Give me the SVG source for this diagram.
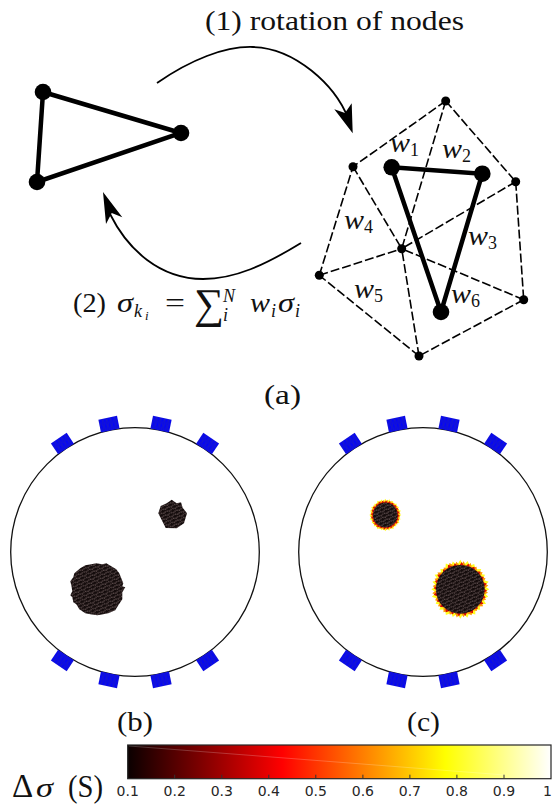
<svg xmlns="http://www.w3.org/2000/svg" xmlns:xlink="http://www.w3.org/1999/xlink" width="553" height="805" viewBox="0 0 553 805">
<style>
.t{font-family:"Liberation Serif","Times New Roman",serif;fill:#111;font-size:28px}
.m{font-style:italic}
.s{font-size:18px}
.ss{font-size:13px}
.big{font-size:31px}
.tick{font-family:"DejaVu Sans",sans-serif;font-size:14px;fill:#262626;text-anchor:middle}
.solid{fill:none;stroke:#000;stroke-width:4.5}
.dash{fill:none;stroke:#000;stroke-width:1.6;stroke-dasharray:9 3}
.curve{fill:none;stroke:#000;stroke-width:1.8}
.ring{fill:#fff;stroke:#111;stroke-width:1.3}
.tk{stroke:#333;stroke-width:1}
</style>
<defs>
<pattern id="mesh" width="4.4" height="4.4" patternUnits="userSpaceOnUse" patternTransform="rotate(22)">
<rect width="4.4" height="4.4" fill="#140c0c"/>
<rect x="0.3" y="0.4" width="1.5" height="1.1" fill="#6e5c5c"/>
<rect x="2.7" y="1.4" width="1.4" height="1.1" fill="#6e5c5c"/>
<rect x="1.2" y="3" width="1.4" height="1" fill="#6e5c5c"/>
</pattern>
<pattern id="zig" width="4" height="6" patternUnits="userSpaceOnUse">
<rect width="4" height="6" fill="#0505f5"/>
<path d="M1 0L2.5 3L1 6M3.4 0L2.8 3L3.4 6" fill="none" stroke="#2020b8" stroke-width="0.7"/>
</pattern>
<rect id="el" x="-9.5" y="-137" width="19" height="13" fill="url(#zig)"/>
<polygon id="star" points="108,0 90,12 104,28 84,36 96,54 72,58 74,76 56,75 56,94 34,88 26,106 12,90 0,110 -12,90 -28,103 -34,88 -54,96 -56,75 -78,76 -72,58 -92,54 -84,36 -106,28 -90,12 -108,0 -90,-12 -104,-28 -84,-36 -96,-54 -72,-58 -74,-76 -56,-75 -54,-96 -34,-88 -28,-104 -12,-90 0,-110 12,-90 28,-106 34,-88 52,-94 56,-75 78,-76 72,-58 92,-54 84,-36 106,-28 90,-12"/>
<linearGradient id="hot" x1="0" x2="1" y1="0" y2="0">
<stop offset="0" stop-color="#0a0000"/>
<stop offset="0.365" stop-color="#ff0000"/>
<stop offset="0.75" stop-color="#ffff00"/>
<stop offset="1" stop-color="#ffffff"/>
</linearGradient>
</defs>
<rect width="553" height="805" fill="#fff"/>

<g id="connectors">
<path class="curve" d="M157 83C190 60 225 46 253 47C295 48 335 85 348 118"/>
<polygon points="352.7,133.3 334.3,109.3 345,113 351.7,103.3"/>
<path class="curve" d="M301 243C265 265 235 279 203 279C160 279 128 250 110 214"/>
<polygon points="103,192 106,224 111.7,213 122.3,217.3"/>
<g id="mesh-edges">
<path class="dash" d="M445.7 101L353 166.7M445.7 101L515.7 181.7M515.7 181.7L523.7 299.7M523.7 299.7L419 356M419 356L319.3 275.3M319.3 275.3L353 166.7"/>
<path class="dash" d="M353 166.7L401.7 248.7M445.7 101L401.7 248.7M515.7 181.7L401.7 248.7M523.7 299.7L401.7 248.7M419 356L401.7 248.7M319.3 275.3L401.7 248.7"/>
</g>
<path class="solid" d="M43 92L181 133L37 182Z"/>
<path class="solid" d="M391.7 167.3L482.3 173.7L441 312Z"/>
</g>

<g id="node-a1"><circle cx="43" cy="92" r="8.3"/></g>
<g id="node-a2"><circle cx="181" cy="133" r="8.3"/></g>
<g id="node-a3"><circle cx="37" cy="182" r="8.3"/></g>
<g id="node-b1"><circle cx="391.7" cy="167.3" r="8.3"/></g>
<g id="node-b2"><circle cx="482.3" cy="173.7" r="8.3"/></g>
<g id="node-b3"><circle cx="441" cy="312" r="8.3"/></g>
<g id="node-m1"><circle cx="445.7" cy="101" r="4.5"/></g>
<g id="node-m2"><circle cx="353" cy="166.7" r="4.5"/></g>
<g id="node-m3"><circle cx="515.7" cy="181.7" r="4.5"/></g>
<g id="node-m4"><circle cx="401.7" cy="248.7" r="4.5"/></g>
<g id="node-m5"><circle cx="319.3" cy="275.3" r="4.5"/></g>
<g id="node-m6"><circle cx="523.7" cy="299.7" r="4.5"/></g>
<g id="node-m7"><circle cx="419" cy="356" r="4.5"/></g>

<g id="labels-a">
<text class="t" x="205" y="30" textLength="259" lengthAdjust="spacingAndGlyphs">(1) rotation of nodes</text>
<text class="t m" x="390" y="152" textLength="20" lengthAdjust="spacingAndGlyphs">w</text><text class="t s" x="410" y="156">1</text>
<text class="t m" x="442" y="158" textLength="20" lengthAdjust="spacingAndGlyphs">w</text><text class="t s" x="462" y="162">2</text>
<text class="t m" x="468" y="245" textLength="20" lengthAdjust="spacingAndGlyphs">w</text><text class="t s" x="488" y="249">3</text>
<text class="t m" x="344" y="229" textLength="20" lengthAdjust="spacingAndGlyphs">w</text><text class="t s" x="364" y="233">4</text>
<text class="t m" x="354" y="298" textLength="20" lengthAdjust="spacingAndGlyphs">w</text><text class="t s" x="374" y="302">5</text>
<text class="t m" x="451" y="303" textLength="20" lengthAdjust="spacingAndGlyphs">w</text><text class="t s" x="471" y="307">6</text>
<text class="t" x="73" y="312" textLength="33" lengthAdjust="spacingAndGlyphs">(2)</text>
<text class="t m" x="117" y="312" textLength="16" lengthAdjust="spacingAndGlyphs">σ</text>
<text class="t m s" x="134" y="317">k</text>
<text class="t m ss" x="145" y="320">i</text>
<text class="t" x="165" y="312" textLength="20" lengthAdjust="spacingAndGlyphs">=</text>
<text class="t" x="194" y="318" style="font-size:42px">∑</text>
<text class="t m s" x="223" y="302">N</text>
<text class="t m s" x="223" y="321">i</text>
<text class="t m" x="250" y="312" textLength="20" lengthAdjust="spacingAndGlyphs">w</text>
<text class="t m s" x="271" y="317">i</text>
<text class="t m" x="278" y="312" textLength="16" lengthAdjust="spacingAndGlyphs">σ</text>
<text class="t m s" x="295" y="317">i</text>
<text class="t" x="264" y="404" textLength="37" lengthAdjust="spacingAndGlyphs">(a)</text>
</g>

<g id="panel-b">
<circle class="ring" cx="135" cy="552" r="124.3"/>
<g transform="translate(135 552)">
<use href="#el" xlink:href="#el" transform="rotate(-33.8)"/>
<use href="#el" xlink:href="#el" transform="rotate(-11.5)"/>
<use href="#el" xlink:href="#el" transform="rotate(11.5)"/>
<use href="#el" xlink:href="#el" transform="rotate(33.8)"/>
<use href="#el" xlink:href="#el" transform="rotate(146.2)"/>
<use href="#el" xlink:href="#el" transform="rotate(168.5)"/>
<use href="#el" xlink:href="#el" transform="rotate(191.5)"/>
<use href="#el" xlink:href="#el" transform="rotate(213.8)"/>
</g>
<polygon fill="url(#mesh)" points="171.7,499.7 176.7,503.3 181,502.3 182.7,507.7 187,513.3 184,523.3 176.7,528.3 165.7,528 161.7,520 158.3,513.3 160.7,506 166.7,503.3"/>
<polygon fill="url(#mesh)" transform="translate(97.3 589.3)" points="28,-2 25,3 25,10 21,16 18,21 11,24 6,25 0,26 -7,25 -12,24 -18,20 -21,15 -24,13 -25,8 -27,6 -25,2 -26,-4 -27,-8 -24,-12 -23,-16 -17,-21 -12,-24 -6,-25 -1,-26 5,-25 9,-26 14,-23 19,-20 22,-16 24,-11 26,-6 25,-3"/>
</g>

<g id="panel-c">
<circle class="ring" cx="423" cy="552" r="124.3"/>
<g transform="translate(423 552)">
<use href="#el" xlink:href="#el" transform="rotate(-33.8)"/>
<use href="#el" xlink:href="#el" transform="rotate(-11.5)"/>
<use href="#el" xlink:href="#el" transform="rotate(11.5)"/>
<use href="#el" xlink:href="#el" transform="rotate(33.8)"/>
<use href="#el" xlink:href="#el" transform="rotate(146.2)"/>
<use href="#el" xlink:href="#el" transform="rotate(168.5)"/>
<use href="#el" xlink:href="#el" transform="rotate(191.5)"/>
<use href="#el" xlink:href="#el" transform="rotate(213.8)"/>
</g>
<use href="#star" xlink:href="#star" fill="#ffff20" transform="translate(385.3 515) scale(.148)"/>
<use href="#star" xlink:href="#star" fill="#ff9a00" transform="translate(385.3 515) rotate(8) scale(.14)"/>
<use href="#star" xlink:href="#star" fill="#d81000" transform="translate(385.3 515) rotate(3) scale(.135)"/>
<circle cx="385.3" cy="515" r="12.4" fill="url(#mesh)"/>
<use href="#star" xlink:href="#star" fill="#ffff20" transform="translate(460.3 589.3) scale(.268)"/>
<use href="#star" xlink:href="#star" fill="#ff9a00" transform="translate(460.3 589.3) rotate(7) scale(.258)"/>
<use href="#star" xlink:href="#star" fill="#d81000" transform="translate(460.3 589.3) rotate(3) scale(.248)"/>
<circle cx="460.3" cy="589.3" r="24.4" fill="url(#mesh)"/>
</g>

<g id="labels-bc">
<text class="t" x="117" y="731" textLength="36" lengthAdjust="spacingAndGlyphs">(b)</text>
<text class="t" x="407" y="731" textLength="33" lengthAdjust="spacingAndGlyphs">(c)</text>
<text class="t" x="12" y="797" style="font-size:33px">Δ</text>
<text class="t m" x="36" y="797" textLength="17" lengthAdjust="spacingAndGlyphs">σ</text>
<text class="t big" x="68" y="797" textLength="35" lengthAdjust="spacingAndGlyphs">(S)</text>
</g>

<g id="colorbar">
<rect x="127.7" y="745" width="423.3" height="33.7" fill="url(#hot)"/>
<path d="M129 746L505 775" stroke="#fff" stroke-opacity=".3" stroke-width=".7" fill="none"/>
<rect x="127.7" y="745" width="423.3" height="33.7" fill="none" stroke="#262626" stroke-width="1.2"/>
<path class="tk" d="M174.7 778.7v-4M221.8 778.7v-4M268.8 778.7v-4M315.8 778.7v-4M362.9 778.7v-4M409.9 778.7v-4M456.9 778.7v-4M504 778.7v-4"/>
<text class="tick" x="127.7" y="796">0.1</text>
<text class="tick" x="174.7" y="796">0.2</text>
<text class="tick" x="221.8" y="796">0.3</text>
<text class="tick" x="268.8" y="796">0.4</text>
<text class="tick" x="315.8" y="796">0.5</text>
<text class="tick" x="362.9" y="796">0.6</text>
<text class="tick" x="409.9" y="796">0.7</text>
<text class="tick" x="456.9" y="796">0.8</text>
<text class="tick" x="504" y="796">0.9</text>
<text class="tick" x="547.5" y="796">1</text>
</g>
</svg>
